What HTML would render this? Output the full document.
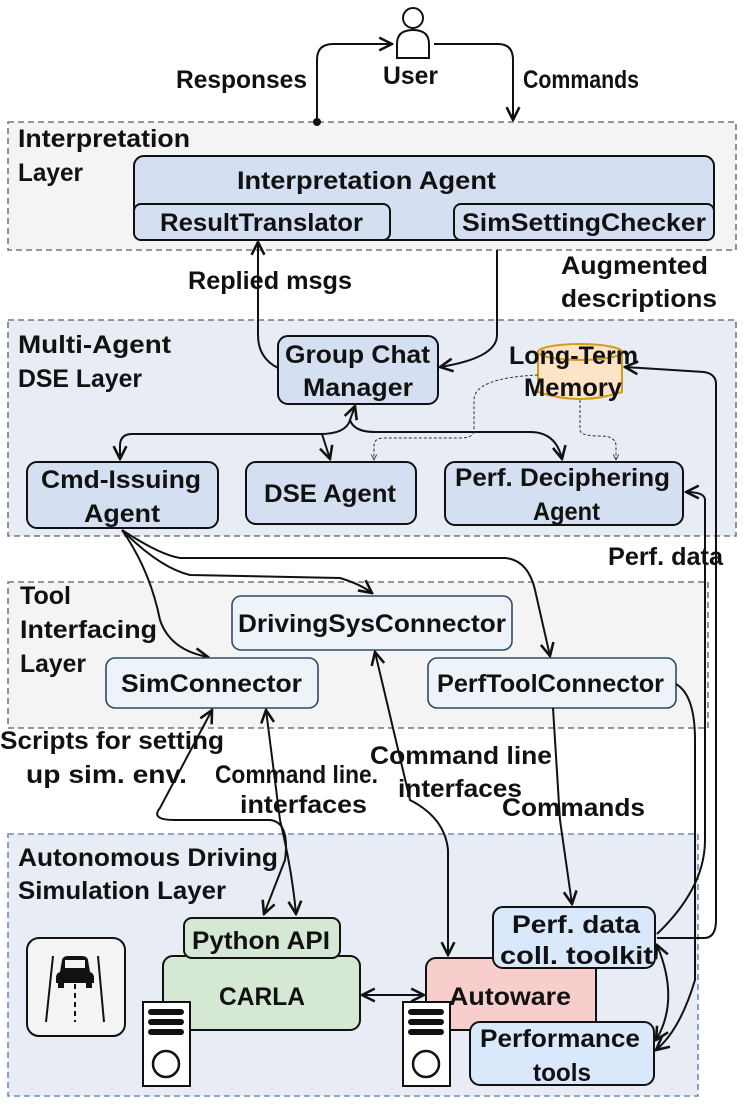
<!DOCTYPE html>
<html><head><meta charset="utf-8"><style>
html,body{margin:0;padding:0;background:#fff;}
svg{display:block;}
text{font-family:"Liberation Sans",sans-serif;font-weight:bold;font-size:25px;fill:#111;}
</style></head><body>
<svg width="749" height="1107" viewBox="0 0 749 1107" xmlns="http://www.w3.org/2000/svg">
<defs>
<marker id="a" viewBox="0 0 10 10" refX="9" refY="5" markerWidth="8" markerHeight="8" orient="auto-start-reverse"><path d="M1,1 L9,5 L1,9" fill="none" stroke="#111" stroke-width="1.6"/></marker>
<marker id="s" viewBox="0 0 10 10" refX="9" refY="5" markerWidth="7" markerHeight="7" orient="auto"><path d="M1,1 L9,5 L1,9" fill="none" stroke="#333" stroke-width="1.2"/></marker>
</defs>
<rect x="8" y="122" width="728" height="128" fill="#f4f4f4" stroke="#777" stroke-width="1.6" stroke-dasharray="6,4"/>
<rect x="8" y="320" width="728" height="216" fill="#e7ecf5" stroke="#777" stroke-width="1.6" stroke-dasharray="6,4"/>
<rect x="8" y="582" width="700" height="146" fill="#f4f4f4" stroke="#777" stroke-width="1.6" stroke-dasharray="6,4"/>
<rect x="8" y="834" width="690" height="262" fill="#e7ecf5" stroke="#6c8ebf" stroke-width="1.6" stroke-dasharray="6,4"/>

<g lengthAdjust="spacingAndGlyphs">
<text x="18" y="147" textLength="172" lengthAdjust="spacingAndGlyphs">Interpretation</text><text x="18" y="181" textLength="65" lengthAdjust="spacingAndGlyphs">Layer</text>
<text x="18" y="353" textLength="153" lengthAdjust="spacingAndGlyphs">Multi-Agent</text><text x="18" y="387" textLength="124" lengthAdjust="spacingAndGlyphs">DSE Layer</text>
<text x="20" y="604" textLength="51" lengthAdjust="spacingAndGlyphs">Tool</text><text x="20" y="638" textLength="137" lengthAdjust="spacingAndGlyphs">Interfacing</text><text x="20" y="672" textLength="66" lengthAdjust="spacingAndGlyphs">Layer</text>
<text x="18" y="866" textLength="260" lengthAdjust="spacingAndGlyphs">Autonomous Driving</text><text x="18" y="899" textLength="208" lengthAdjust="spacingAndGlyphs">Simulation Layer</text>
</g>

<circle cx="413" cy="18" r="10" fill="#fff" stroke="#111" stroke-width="2"/>
<path d="M397,58 L397,44 Q397,30 413,30 Q429,30 429,44 L429,58 Z" fill="#fff" stroke="#111" stroke-width="2"/>
<text x="383" y="84" textLength="55" lengthAdjust="spacingAndGlyphs">User</text>
<text x="176" y="88" textLength="131" lengthAdjust="spacingAndGlyphs">Responses</text>
<text x="523" y="88" textLength="116" lengthAdjust="spacingAndGlyphs">Commands</text>
<path d="M317,122 L317,60 Q317,44 333,44 L392,44" fill="none" stroke="#111" stroke-width="2" marker-end="url(#a)"/>
<circle cx="317" cy="122" r="4" fill="#111"/>
<path d="M434,44 L498,44 Q513,44 513,60 L513,120" fill="none" stroke="#111" stroke-width="2" marker-end="url(#a)"/>

<rect x="134" y="156" width="580" height="84" rx="10" fill="#d4dff2" stroke="#111" stroke-width="2"/>
<text x="237" y="189" textLength="259" lengthAdjust="spacingAndGlyphs">Interpretation Agent</text>
<rect x="134" y="204" width="256" height="36" rx="7" fill="#d4dff2" stroke="#111" stroke-width="2"/>
<text x="160" y="231" textLength="203" lengthAdjust="spacingAndGlyphs">ResultTranslator</text>
<rect x="454" y="204" width="260" height="36" rx="7" fill="#d4dff2" stroke="#111" stroke-width="2"/>
<text x="462" y="231" textLength="244" lengthAdjust="spacingAndGlyphs">SimSettingChecker</text>

<text x="188" y="289" textLength="164" lengthAdjust="spacingAndGlyphs">Replied msgs</text>
<text x="561" y="274" textLength="147" lengthAdjust="spacingAndGlyphs">Augmented</text>
<text x="561" y="307" textLength="156" lengthAdjust="spacingAndGlyphs">descriptions</text>

<path d="M278,368 Q258,358 258,335 L258,242" fill="none" stroke="#111" stroke-width="2" marker-end="url(#a)"/>
<path d="M497,250 L497,335 Q497,358 440,367" fill="none" stroke="#111" stroke-width="2" marker-end="url(#a)"/>

<rect x="278" y="336" width="160" height="68" rx="10" fill="#d4dff2" stroke="#111" stroke-width="2"/>
<text x="285" y="363" textLength="145" lengthAdjust="spacingAndGlyphs">Group Chat</text><text x="303" y="396" textLength="110" lengthAdjust="spacingAndGlyphs">Manager</text>
<path d="M538,352 L538,392 Q580,406 622,392 L622,352" fill="#fde4c6" stroke="#d59a1a" stroke-width="2"/>
<ellipse cx="580" cy="352" rx="42" ry="8" fill="#fde4c6" stroke="#d59a1a" stroke-width="2"/>
<text x="509" y="364" textLength="129" lengthAdjust="spacingAndGlyphs">Long-Term</text><text x="524" y="396" textLength="98" lengthAdjust="spacingAndGlyphs">Memory</text>

<rect x="27" y="462" width="191" height="66" rx="10" fill="#d4dff2" stroke="#111" stroke-width="2"/>
<text x="41" y="488" textLength="160" lengthAdjust="spacingAndGlyphs">Cmd-Issuing</text><text x="84" y="522" textLength="76" lengthAdjust="spacingAndGlyphs">Agent</text>
<rect x="246" y="462" width="170" height="62" rx="10" fill="#d4dff2" stroke="#111" stroke-width="2"/>
<text x="264" y="502" textLength="132" lengthAdjust="spacingAndGlyphs">DSE Agent</text>
<rect x="445" y="462" width="238" height="63" rx="10" fill="#d4dff2" stroke="#111" stroke-width="2"/>
<text x="455" y="486" textLength="215" lengthAdjust="spacingAndGlyphs">Perf. Deciphering</text><text x="533" y="520" textLength="67" lengthAdjust="spacingAndGlyphs">Agent</text>

<path d="M355,406 L350,420 Q346,434 320,434 L132,434 Q120,434 120,446 L120,459" fill="none" stroke="#111" stroke-width="2" marker-start="url(#a)" marker-end="url(#a)"/>
<path d="M322,434 L330,459" fill="none" stroke="#111" stroke-width="2" marker-end="url(#a)"/>
<path d="M350,420 Q354,432 375,432 L530,432 Q556,432 562,459" fill="none" stroke="#111" stroke-width="2" marker-end="url(#a)"/>
<path d="M538,375 Q474,378 474,400 L474,430 Q474,438 460,438 L384,438 Q374,438 374,446 L374,460" fill="none" stroke="#333" stroke-width="1" stroke-dasharray="3,2" marker-end="url(#s)"/>
<path d="M580,400 L580,430 Q580,436 600,436 Q616,436 616,446 L616,460" fill="none" stroke="#333" stroke-width="1" stroke-dasharray="3,2" marker-end="url(#s)"/>

<path d="M657,938 L704,938 Q716,938 716,920 L716,384 Q716,374 704,372 L625,367" fill="none" stroke="#111" stroke-width="2" marker-end="url(#a)"/>
<path d="M657,934 Q705,888 705,840 L705,500 Q705,492 686,492" fill="none" stroke="#111" stroke-width="2" marker-end="url(#a)"/>
<rect x="604" y="540" width="98" height="30" fill="#fff"/>
<text x="608" y="565" textLength="115" lengthAdjust="spacingAndGlyphs">Perf. data</text>

<path d="M122,530 Q150,570 160,620 Q170,650 208,657" fill="none" stroke="#111" stroke-width="2" marker-end="url(#a)"/>
<path d="M122,530 Q160,568 190,575 L340,578 Q360,584 372,593" fill="none" stroke="#111" stroke-width="2" marker-end="url(#a)"/>
<path d="M122,530 Q160,555 180,558 L505,558 Q528,560 535,590 L550,656" fill="none" stroke="#111" stroke-width="2" marker-end="url(#a)"/>

<rect x="232" y="596" width="280" height="54" rx="9" fill="#eef3f9" stroke="#2f4a66" stroke-width="1.6"/>
<text x="238" y="632" textLength="268" lengthAdjust="spacingAndGlyphs">DrivingSysConnector</text>
<rect x="106" y="658" width="212" height="50" rx="9" fill="#eef3f9" stroke="#2f4a66" stroke-width="1.6"/>
<text x="121" y="692" textLength="181" lengthAdjust="spacingAndGlyphs">SimConnector</text>
<rect x="428" y="658" width="248" height="50" rx="9" fill="#eef3f9" stroke="#2f4a66" stroke-width="1.6"/>
<text x="437" y="692" textLength="227" lengthAdjust="spacingAndGlyphs">PerfToolConnector</text>

<path d="M212,710 L160,808 Q150,820 175,820 L270,820 Q290,822 285,860 L264,914" fill="none" stroke="#111" stroke-width="2" marker-start="url(#a)" marker-end="url(#a)"/>
<path d="M266,710 L280,820 Q292,870 296,914" fill="none" stroke="#111" stroke-width="2" marker-start="url(#a)" marker-end="url(#a)"/>
<path d="M375,652 L410,800 Q445,818 448,850 L448,955" fill="none" stroke="#111" stroke-width="2" marker-start="url(#a)" marker-end="url(#a)"/>
<path d="M553,708 L560,820 L572,904" fill="none" stroke="#111" stroke-width="2" marker-end="url(#a)"/>
<path d="M676,684 Q695,695 695,740 L695,980 Q680,1030 656,1050" fill="none" stroke="#111" stroke-width="2" marker-end="url(#a)"/>
<path d="M657,945 Q680,1000 656,1040" fill="none" stroke="#111" stroke-width="2" marker-start="url(#a)" marker-end="url(#a)"/>

<text x="0" y="749" textLength="224" lengthAdjust="spacingAndGlyphs">Scripts for setting</text>
<text x="26" y="783" textLength="161" lengthAdjust="spacingAndGlyphs">up sim. env.</text>
<text x="215" y="783" textLength="163" lengthAdjust="spacingAndGlyphs">Command line.</text>
<text x="240" y="813" textLength="127" lengthAdjust="spacingAndGlyphs">interfaces</text>
<text x="370" y="764" textLength="182" lengthAdjust="spacingAndGlyphs">Command line</text>
<text x="398" y="797" textLength="124" lengthAdjust="spacingAndGlyphs">interfaces</text>
<text x="502" y="816" textLength="143" lengthAdjust="spacingAndGlyphs">Commands</text>

<rect x="27" y="938" width="98" height="98" rx="12" fill="#f4f4f4" stroke="#111" stroke-width="2"/>
<line x1="53" y1="956" x2="46" y2="1022" stroke="#111" stroke-width="2"/>
<line x1="98" y1="956" x2="104" y2="1022" stroke="#111" stroke-width="2"/>
<line x1="75" y1="975" x2="75" y2="1022" stroke="#111" stroke-width="2" stroke-dasharray="5,4"/>
<path d="M60,972 L62,960 Q63,956 68,956 L82,956 Q87,956 88,960 L90,972 Q94,973 94,978 L94,983 L56,983 L56,978 Q56,973 60,972 Z" fill="#111"/>
<rect x="58" y="982" width="6" height="6" fill="#111"/><rect x="86" y="982" width="6" height="6" fill="#111"/>
<rect x="65" y="960" width="20" height="8" fill="#f4f4f4"/>

<rect x="163" y="956" width="197" height="74" rx="10" fill="#d5e8d4" stroke="#111" stroke-width="2"/>
<rect x="184" y="918" width="156" height="40" rx="8" fill="#d5e8d4" stroke="#111" stroke-width="2"/>
<text x="192" y="949" textLength="138" lengthAdjust="spacingAndGlyphs">Python API</text>
<text x="219" y="1005" textLength="86" lengthAdjust="spacingAndGlyphs">CARLA</text>

<rect x="426" y="958" width="170" height="72" rx="10" fill="#f8cecc" stroke="#111" stroke-width="2"/>
<text x="449" y="1005" textLength="122" lengthAdjust="spacingAndGlyphs">Autoware</text>
<path d="M362,995 L424,995" fill="none" stroke="#111" stroke-width="2" marker-start="url(#a)" marker-end="url(#a)"/>

<rect x="493" y="907" width="162" height="61" rx="10" fill="#dae8fc" stroke="#111" stroke-width="2"/>
<text x="512" y="933" textLength="128" lengthAdjust="spacingAndGlyphs">Perf. data</text><text x="500" y="964" textLength="153" lengthAdjust="spacingAndGlyphs">coll. toolkit</text>
<rect x="470" y="1022" width="184" height="63" rx="10" fill="#dae8fc" stroke="#111" stroke-width="2"/>
<text x="480" y="1047" textLength="160" lengthAdjust="spacingAndGlyphs">Performance</text><text x="533" y="1081" textLength="58" lengthAdjust="spacingAndGlyphs">tools</text>

<g>
<rect x="143" y="1002" width="47" height="84" fill="#fff" stroke="#111" stroke-width="2"/>
<rect x="148" y="1009" width="36" height="6" rx="3" fill="#111"/>
<rect x="148" y="1019" width="36" height="6" rx="3" fill="#111"/>
<rect x="148" y="1029" width="36" height="6" rx="3" fill="#111"/>
<circle cx="166" cy="1064" r="13" fill="#fff" stroke="#111" stroke-width="2.5"/>
</g>
<g>
<rect x="403" y="1002" width="47" height="84" fill="#fff" stroke="#111" stroke-width="2"/>
<rect x="408" y="1009" width="36" height="6" rx="3" fill="#111"/>
<rect x="408" y="1019" width="36" height="6" rx="3" fill="#111"/>
<rect x="408" y="1029" width="36" height="6" rx="3" fill="#111"/>
<circle cx="426" cy="1064" r="13" fill="#fff" stroke="#111" stroke-width="2.5"/>
</g>
</svg>
</body></html>
